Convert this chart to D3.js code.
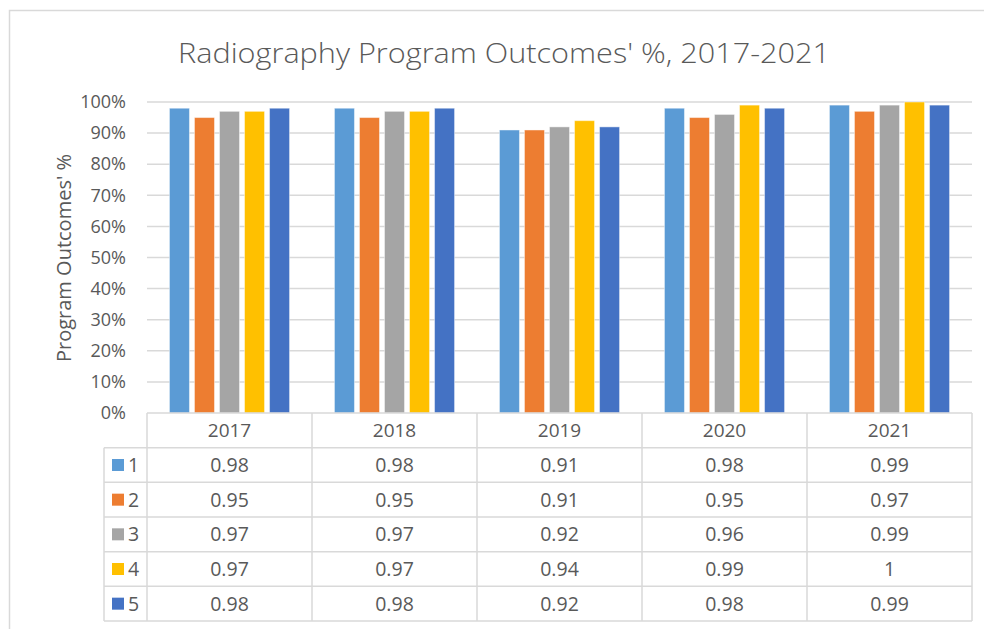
<!DOCTYPE html>
<html><head><meta charset="utf-8">
<script src="https://cdn.jsdelivr.net/npm/d3@7"></script>
<style>html,body{margin:0;padding:0;background:#fff;}svg{display:block;font-family:"Open Sans","Noto Sans",sans-serif;}</style>
</head><body><svg id="c" width="984" height="629"></svg>
<script>
const years = ["2017","2018","2019","2020","2021"];
const seriesNames = ["1","2","3","4","5"];
const s1 = [0.98,0.98,0.91,0.98,0.99];
const s2 = [0.95,0.95,0.91,0.95,0.97];
const s3 = [0.97,0.97,0.92,0.96,0.99];
const s4 = [0.97,0.97,0.94,0.99,1];
const s5 = [0.98,0.98,0.92,0.98,0.99];
const seriesValues = [s1,s2,s3,s4,s5];
const colors = ["#5B9BD5","#ED7D31","#A5A5A5","#FFC000","#4472C4"];
const yTicks = [0,0.1,0.2,0.3,0.4,0.5,0.6,0.7,0.8,0.9,1];

const svg = d3.select("#c");
const txt = "#595959", grid = "#d9d9d9";
// outer chart border
svg.append("rect").attr("x",9.5).attr("y",10.5).attr("width",990).attr("height",640)
  .attr("fill","none").attr("stroke","#d9d9d9").attr("stroke-width",1.5);

svg.append("text").attr("x",504).attr("y",63).attr("text-anchor","middle")
  .attr("fill",txt).attr("font-size",28).attr("font-weight",300)
  .attr("textLength",652).attr("lengthAdjust","spacingAndGlyphs")
  .text("Radiography Program Outcomes' %, 2017-2021");

const L=147, R=972, T=102, B=413;
const x = d3.scaleBand().domain(years).range([L,R]).padding(0);
const y = d3.scaleLinear().domain([0,1]).range([B,T]);
const bw = x.bandwidth();
const xi = d3.scaleBand().domain(seriesNames).range([bw*0.136, bw*0.864]).paddingInner(0.2).paddingOuter(0);

// gridlines
svg.append("g").selectAll("line").data(yTicks.filter(d=>d>0)).join("line")
  .attr("x1",L).attr("x2",R).attr("y1",d=>y(d)).attr("y2",d=>y(d))
  .attr("stroke",grid).attr("stroke-width",1.5);

// y axis labels
const yAxis = d3.axisLeft(y).tickValues(yTicks).tickFormat(d3.format(".0%")).tickSize(0).tickPadding(21);
const ga = svg.append("g").attr("transform",`translate(${L},0)`).call(yAxis);
ga.select(".domain").remove();
ga.selectAll("text").attr("fill",txt).attr("font-size",18).attr("font-family","'Open Sans',sans-serif");

svg.append("text").attr("transform","translate(71,258) rotate(-90)").attr("text-anchor","middle")
  .attr("fill",txt).attr("font-size",20).text("Program Outcomes' %");

// bars
const gb = svg.append("g");
seriesValues.forEach((vals,si)=>{
  gb.append("g").selectAll("rect").data(vals).join("rect")
    .attr("x",(d,i)=>x(years[i])+xi(seriesNames[si]))
    .attr("width",xi.bandwidth())
    .attr("y",d=>y(d)).attr("height",d=>B-y(d))
    .attr("fill",colors[si]).attr("stroke","rgba(255,255,255,0.45)").attr("stroke-width",1);
});

// data table
const rowH = (621-413)/6;
const tg = svg.append("g").attr("stroke",grid).attr("stroke-width",1.5);
const LL = 104;
tg.append("line").attr("x1",L).attr("x2",R).attr("y1",B).attr("y2",B);
for(let r=1;r<=6;r++){
  tg.append("line").attr("x1",LL).attr("x2",R).attr("y1",B+r*rowH).attr("y2",B+r*rowH);
}
tg.append("line").attr("x1",LL).attr("x2",LL).attr("y1",B+rowH).attr("y2",B+6*rowH);
years.forEach(yr=>{
  tg.append("line").attr("x1",x(yr)).attr("x2",x(yr)).attr("y1",B).attr("y2",B+6*rowH);
});
tg.append("line").attr("x1",R).attr("x2",R).attr("y1",B).attr("y2",B+6*rowH);

svg.append("g").selectAll("text").data(years).join("text")
  .attr("x",d=>x(d)+bw/2).attr("y",B+rowH/2+7).attr("text-anchor","middle")
  .attr("fill",txt).attr("font-size",19).text(d=>d);

seriesValues.forEach((vals,si)=>{
  const cy = B+(si+1)*rowH+rowH/2;
  svg.append("rect").attr("x",112).attr("y",cy-6).attr("width",12).attr("height",12).attr("fill",colors[si]);
  svg.append("text").attr("x",128).attr("y",cy+7).attr("fill",txt).attr("font-size",19.5).text(seriesNames[si]);
  svg.append("g").selectAll("text").data(vals).join("text")
    .attr("x",(d,i)=>x(years[i])+bw/2).attr("y",cy+7).attr("text-anchor","middle")
    .attr("fill",txt).attr("font-size",19.5).text(d=>String(d));
});
</script></body></html>
